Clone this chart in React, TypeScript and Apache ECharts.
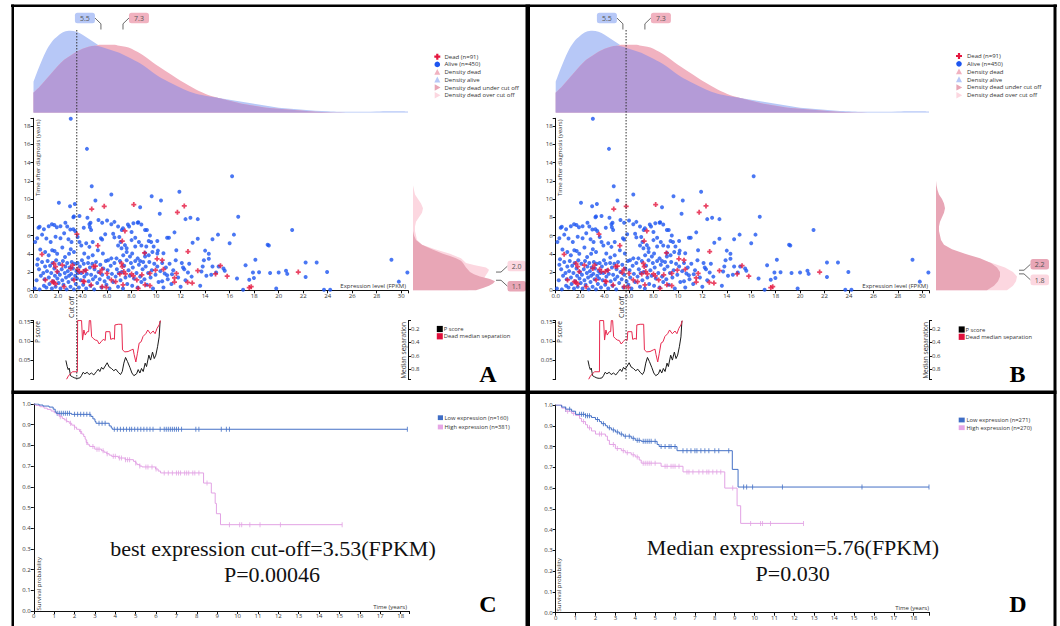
import React, { useEffect, useRef } from "react";
import * as echarts from "echarts";

type P = [number, number];

const SANS = "'Open Sans', 'Noto Sans', 'DejaVu Sans', sans-serif";
const SERIF = "'Liberation Serif', 'Times New Roman', serif";

// ---------------- scatter: expression (FPKM) vs time after diagnosis (years) ----------------
const alivePoints: P[] = [
  [3.04,18.8],[4.36,15.5],[16.2,12.5],[4.75,11.4],[11.9,10.8],[6.35,10.5],[9.64,10.3],[5.05,9.85],[10.4,9.85],[2.07,9.6],[3.37,9.45],[2.98,9.2],[8.7,9.1],[10.3,8.4],[16.7,8.05],[12.4,7.8],[12.8,7.95],[13.4,7.8],[21.1,6.6],[16.35,6.1],[15.05,6.1],[14.6,5.6],[13.4,5.65],[12.98,5.2],[16.0,5.15],[19.1,5.0],[19.2,4.9],[11.5,6.35],[11.05,5.75],[10.9,5.75],
  [29.2,3.35],[30.5,1.95],[29.8,0.95],[23.1,3.05],[22.2,3.05],[23.95,2.0],[22.2,1.45],[20.6,2.15],[20.7,1.8],[20.0,1.95],[19.3,1.9],[18.4,1.97],[18.1,3.35],[17.9,1.95],[17.3,2.75],[17.6,1.15],[17.98,1.35],[16.6,1.3],[19.8,0.2],[17.1,0.05],[23.7,0.05],[24.2,0.05],
  [14.0,4.35],[14.3,4.0],[13.9,3.3],[14.3,3.45],[13.8,2.6],[13.7,2.05],[14.1,1.6],[14.5,1.7],[14.6,2.6],[15.1,2.6],[15.5,2.4],[15.6,2.15],[14.9,1.95],[13.6,0.5],[12.9,1.5],[12.6,1.95],[12.2,2.5],[12.1,3.0],[12.3,2.3],[11.6,3.3],[11.65,4.4],[11.3,1.75],[10.9,1.65],[10.7,1.85],[10.5,1.0],[10.6,4.05],[10.15,4.35],[9.8,4.8],[9.2,4.8],[8.8,4.9],[9.1,6.6],[9.4,5.4],[8.3,5.75],[8.15,7.35],[8.55,7.45],[7.7,7.2],[7.3,6.8],[7.0,5.85],[6.6,5.8],[6.35,7.25],[6.0,7.65],[6.6,7.5],[5.6,7.4],[5.3,7.7],[5.85,6.15],[4.65,7.4],[4.4,7.95],[3.75,8.15],[3.3,8.1],[3.25,8.0],[4.6,6.9],[4.3,5.15],[3.9,4.9],
  [0.41,6.85],[0.5,6.96],[0.85,6.7],[1.24,7.03],[1.5,7.25],[1.7,7.15],[1.9,6.9],[2.2,7.03],[2.6,7.4],[2.75,7.0],[3.0,6.67],[3.25,6.7],[3.4,6.5],[4.1,6.85],[4.56,7.25],[4.7,6.6],[6.9,7.0],[7.2,6.6],[7.8,7.0],[8.0,6.4],[8.5,7.4],[8.8,7.2],[9.25,6.6],[9.5,6.0],
  [0.14,5.3],[0.3,5.7],[0.7,6.1],[1.05,5.68],[1.4,5.3],[1.8,5.86],[2.2,5.7],[2.5,6.25],[2.85,5.6],[3.1,5.3],[3.6,5.85],[3.75,5.3],[4.56,4.76],[4.83,5.3],[5.5,5.7],[5.6,5.57],[6.5,6.2],[6.9,4.9],[7.1,5.3],[7.46,4.95],[7.6,4.6],[8.0,5.5],[8.3,4.8],[8.6,5.3],[9.1,4.1],[9.6,5.3],[10.1,5.4],
  [0.55,4.47],[0.95,4.2],[1.24,3.85],[1.52,4.4],[1.72,4.3],[1.93,4.0],[2.35,4.69],[2.57,3.66],[2.9,4.0],[3.04,4.5],[3.3,4.2],[4.14,4.03],[4.47,3.6],[4.83,3.85],[5.25,4.4],[5.66,4.03],[6.08,3.3],[6.35,3.5],[6.77,3.5],[7.18,4.6],[7.32,3.85],[7.6,4.2],[7.87,3.7],[8.05,4.03],[8.5,3.5],[8.7,3.2],[9.1,3.7],[9.4,3.85],[9.7,4.2],[10.1,4.03],
  [0.1,0.2],[0.25,1.1],[0.3,2.8],[0.45,2.3],[0.5,0.1],[0.6,1.6],[0.7,3.1],[0.8,1.9],[0.85,0.5],[0.95,2.6],[0.35,3.4],[0.9,1.2],
  [1.05,0.3],[1.1,2.1],[1.15,3.2],[1.25,1.4],[1.3,0.7],[1.35,2.7],[1.45,1.9],[1.5,0.2],[1.55,3.0],[1.6,1.0],[1.7,2.4],[1.75,1.6],[1.8,0.4],[1.85,3.3],[1.95,1.3],[1.98,2.0],
  [2.05,0.8],[2.1,2.9],[2.15,1.7],[2.2,0.2],[2.3,2.3],[2.35,1.1],[2.4,3.2],[2.45,0.6],[2.55,1.9],[2.6,2.6],[2.65,1.4],[2.7,0.1],[2.75,3.0],[2.8,2.1],[2.85,0.9],[2.9,1.6],[2.95,2.5],
  [3.02,0.4],[3.08,1.8],[3.12,3.1],[3.18,1.2],[3.22,2.4],[3.3,0.1],[3.35,2.9],[3.4,1.6],[3.45,0.7],[3.5,2.1],[3.55,1.3],[3.6,3.0],[3.65,1.9],[3.7,0.3],[3.78,2.6],[3.85,1.1],[3.9,1.9],[3.95,3.3],
  [4.05,0.6],[4.1,2.9],[4.15,1.5],[4.2,2.2],[4.3,0.2],[4.35,1.8],[4.45,3.0],[4.5,1.0],[4.6,2.5],[4.65,0.5],[4.7,1.7],[4.8,2.9],[4.85,1.2],[4.95,0.1],[4.98,2.3],
  [5.05,1.5],[5.1,3.1],[5.2,0.8],[5.3,2.0],[5.4,1.2],[5.45,2.8],[5.55,0.3],[5.6,1.7],[5.7,2.4],[5.8,1.0],[5.9,3.2],[5.95,0.6],
  [6.05,2.2],[6.1,1.4],[6.2,0.2],[6.3,2.7],[6.4,1.8],[6.5,0.9],[6.6,3.0],[6.7,1.5],[6.8,2.3],[6.9,0.4],[6.95,1.9],
  [7.05,3.2],[7.1,1.1],[7.2,2.0],[7.3,0.2],[7.4,2.7],[7.5,1.4],[7.6,3.3],[7.65,0.7],[7.75,2.2],[7.85,1.6],[7.95,3.0],
  [8.05,0.5],[8.1,2.5],[8.2,1.3],[8.3,3.2],[8.4,1.9],[8.5,0.3],[8.6,2.8],[8.7,1.5],[8.8,0.9],[8.9,2.3],[8.95,3.1],
  [9.05,1.2],[9.15,2.6],[9.25,0.6],[9.35,1.9],[9.45,3.1],[9.55,1.4],[9.65,2.2],[9.75,0.2],[9.85,2.9],[9.95,1.7],
  [10.1,2.6],[10.2,0.9],[10.35,2.1],[10.5,3.0],[10.6,0.3],[10.8,2.5],[10.95,1.2],[11.1,2.9],[11.25,0.7],
  [11.4,2.2],[11.8,1.4],[12.0,0.4],[12.4,1.1],[12.7,2.9],
];
const deadPoints: P[] = [
  [5.77,9.2],[8.18,9.4],[11.74,8.55],[12.3,9.25],[4.75,8.9],[3.54,6.15],[7.46,6.5],[7.24,5.4],[5.25,4.9],[12.6,4.25],[0.69,3.95],[9.06,4.1],[10.08,3.45],[10.5,3.3],[13.4,2.15],[21.6,2.0],[15.25,2.7],[15.8,1.55],[14.85,1.8],[11.66,1.85],[11.5,1.35],[11.5,0.9],[12.95,0.8],[12.57,0.88],[17.76,0.4],[17.6,0.3],[10.6,2.3],[9.95,2.2],[9.5,1.85],[8.84,1.7],[8.43,1.13],[9.1,0.6],[9.5,0.5],[8.54,0.2],[7.3,0.6],[6.7,0.95],[6.35,1.13],[7.5,1.8],[7.37,2.05],[7.04,1.8],[7.24,2.6],[7.18,2.95],[6.0,1.85],[5.44,1.95],[5.05,2.65],[4.9,2.6],[4.28,2.2],[4.06,2.05],[4.06,1.0],[4.14,0.95],[3.73,2.05],[3.6,2.3],[2.35,2.75],[1.66,2.95],[1.8,2.6],[1.93,2.05],[1.52,0.95],[1.66,0.88],[1.8,0.7],[0.97,1.13],[2.49,0.4],[3.04,2.4],[3.18,2.75],[5.6,0.4],[5.94,0.33],[3.31,1.13],[4.7,0.58],[5.58,2.3],[8.0,1.8],[8.15,1.57],
];

// ---------------- expression density (top) ----------------
const densityX = [0,0.5,1,1.5,2,2.5,3,3.5,4,4.5,5,5.5,6,6.5,7,7.5,8,9,10,11,12,13,14,15,16,17,18,19,20,21,22,23,24,25,26,27,28,29,30,30.55];
const densityAlive = [0.031,0.047,0.061,0.071,0.077,0.081,0.082,0.081,0.078,0.074,0.070,0.066,0.064,0.062,0.060,0.057,0.054,0.047,0.038,0.031,0.025,0.020,0.017,0.015,0.013,0.011,0.009,0.007,0.005,0.004,0.003,0.002,0.0015,0.001,0.001,0.001,0.0012,0.0015,0.0015,0.0012];
const densityDead = [0.020,0.026,0.033,0.040,0.047,0.053,0.057,0.061,0.064,0.066,0.067,0.068,0.068,0.068,0.067,0.066,0.064,0.057,0.048,0.040,0.032,0.025,0.019,0.015,0.012,0.009,0.007,0.005,0.004,0.003,0.002,0.001,0.0005,0.0002,0,0,0,0,0,0];
const medianExprAlive = 5.5;
const medianExprDead = 7.3;

// ---------------- survival-time density of dead (right), [time, density] ----------------
const survDensA_under: P[] = [[0,0.063],[0.25,0.070],[0.5,0.076],[0.75,0.080],[1.0,0.082],[1.25,0.077],[1.5,0.067],[1.75,0.061],[2.0,0.057],[2.5,0.053],[3.0,0.050],[3.25,0.048],[3.5,0.043],[3.75,0.037],[4.0,0.030],[4.5,0.019],[5.0,0.009],[5.5,0.003],[6.0,0.001],[6.5,0]];
const survDensA_over: P[] = [[0,0.055],[0.5,0.065],[1.0,0.070],[1.5,0.072],[2.0,0.075],[2.25,0.076],[2.5,0.073],[2.75,0.062],[3.0,0.053],[3.5,0.048],[4.0,0.037],[4.5,0.022],[5.0,0.009],[5.5,0.004],[6.0,0.003],[6.5,0.002],[7.0,0.002],[7.5,0.003],[8.0,0.006],[8.5,0.009],[9.0,0.010],[9.5,0.008],[10.0,0.005],[10.5,0.002],[11.0,0.001],[11.5,0]];
const survDensB_under: P[] = [[0,0.051],[0.5,0.058],[1.0,0.062],[1.5,0.064],[2.0,0.064],[2.5,0.061],[3.0,0.055],[3.5,0.044],[4.0,0.029],[4.5,0.016],[5.0,0.008],[5.5,0.005],[6.0,0.004],[6.5,0.003],[7.0,0.003],[7.5,0.004],[8.0,0.006],[8.5,0.008],[9.0,0.009],[9.5,0.008],[10.0,0.006],[10.5,0.003],[11.0,0.0015],[11.5,0.0005],[12,0]];
const survDensB_over: P[] = [[0,0.071],[0.5,0.077],[1.0,0.080],[1.5,0.081],[2.0,0.077],[2.5,0.069],[3.0,0.056],[3.5,0.040],[4.0,0.025],[4.5,0.013],[5.0,0.007],[5.5,0.004],[6.0,0.003],[7.0,0.002],[8.0,0.002],[9.0,0.002],[10,0.001],[11,0]];
const medianTimeA = { under: 1.1, over: 2.0 };
const medianTimeB = { under: 2.2, over: 1.8 };
const cutoffBest = 3.53;
const cutoffMedian = 5.76;

// ---------------- P score / dead median separation vs cut-off ----------------
const pScore: P[] = [[2.64,0.050],[2.75,0.034],[2.83,0.026],[2.91,0.030],[3.02,0.010],[3.18,0.007],[3.37,0.004],[3.56,0.003],[3.78,0.004],[3.91,0.010],[4.05,0.019],[4.19,0.015],[4.38,0.019],[4.54,0.013],[4.73,0.017],[4.92,0.012],[5.14,0.021],[5.28,0.027],[5.41,0.021],[5.55,0.032],[5.69,0.027],[5.90,0.038],[6.01,0.044],[6.17,0.033],[6.36,0.029],[6.55,0.023],[6.72,0.027],[6.91,0.019],[7.10,0.013],[7.24,0.021],[7.37,0.043],[7.51,0.058],[7.67,0.047],[7.86,0.032],[8.03,0.017],[8.19,0.010],[8.41,0.015],[8.54,0.026],[8.68,0.017],[8.81,0.029],[8.95,0.021],[9.11,0.043],[9.22,0.034],[9.41,0.064],[9.55,0.051],[9.71,0.072],[9.85,0.055],[9.98,0.064],[10.12,0.086],[10.25,0.112],[10.33,0.154]];
const medianSeparation: P[] = [[2.70,0.946],[2.84,0.90],[3.03,0.86],[3.19,0.835],[3.58,0.835],[3.60,0.075],[3.92,0.075],[4.00,0.364],[4.11,0.215],[4.22,0.29],[4.38,0.24],[4.50,0.24],[4.55,0.075],[4.66,0.075],[4.74,0.314],[4.87,0.34],[5.04,0.364],[5.20,0.37],[5.36,0.423],[5.52,0.389],[5.69,0.354],[5.85,0.37],[5.90,0.24],[6.23,0.24],[6.30,0.354],[6.50,0.34],[6.60,0.354],[6.64,0.14],[6.91,0.13],[7.20,0.13],[7.26,0.51],[7.45,0.54],[7.72,0.535],[7.99,0.51],[8.13,0.50],[8.21,0.58],[8.35,0.69],[8.48,0.56],[8.62,0.41],[8.78,0.39],[8.94,0.31],[9.16,0.27],[9.32,0.215],[9.54,0.27],[9.76,0.23],[9.92,0.27],[10.08,0.19],[10.25,0.14],[10.36,0.075]];

// ---------------- Kaplan-Meier curves ----------------
const kmC_low: P[] = [[0,1],[0.25,0.995],[0.45,0.99],[0.75,0.985],[0.95,0.975],[1.05,0.962],[1.1,0.955],[1.85,0.95],[2.8,0.94],[2.9,0.928],[3.0,0.916],[3.05,0.907],[3.7,0.894],[3.8,0.885],[3.85,0.878],[18.33,0.878]];
const kmC_lowCensor = [1.15,1.25,1.35,1.45,1.55,1.65,1.75,2.0,2.15,2.3,2.45,2.6,2.75,3.2,3.35,3.5,3.95,4.1,4.25,4.4,4.55,4.7,4.8,4.95,5.1,5.25,5.4,5.55,5.7,5.85,6.2,6.4,6.5,6.6,6.7,6.8,6.9,7.0,7.1,7.25,7.95,8.1,9.2,9.45,9.6,18.33];
const kmC_high: P[] = [[0,1],[0.1,0.993],[0.3,0.987],[0.5,0.98],[0.66,0.974],[0.85,0.966],[1.0,0.958],[1.15,0.948],[1.25,0.939],[1.4,0.93],[1.5,0.923],[1.62,0.915],[1.74,0.907],[1.86,0.898],[1.99,0.888],[2.1,0.878],[2.24,0.867],[2.35,0.855],[2.45,0.843],[2.52,0.83],[2.57,0.814],[2.65,0.803],[2.74,0.795],[2.99,0.782],[3.32,0.774],[3.45,0.767],[3.57,0.76],[3.7,0.753],[3.82,0.747],[4.15,0.739],[4.48,0.731],[4.89,0.723],[5.0,0.715],[5.06,0.707],[5.2,0.7],[5.31,0.696],[5.97,0.686],[6.1,0.676],[6.22,0.667],[8.33,0.618],[8.71,0.57],[8.9,0.52],[8.96,0.47],[9.16,0.417],[15.13,0.417]];
const kmC_highCensor = [1.3,1.6,1.8,2.0,2.3,2.6,2.9,3.1,3.2,3.4,3.6,3.9,4.0,4.2,4.3,4.5,4.6,4.7,5.0,5.2,5.5,5.6,5.8,6.0,6.4,6.6,6.8,7.0,7.1,7.2,7.4,7.5,7.6,7.8,7.9,8.1,8.5,9.6,10.1,10.2,10.6,11.1,12.1,15.13];
const kmD_low: P[] = [[0,1],[0.3,0.99],[0.5,0.98],[0.8,0.97],[1.0,0.955],[1.5,0.948],[1.8,0.94],[2.0,0.93],[2.2,0.92],[2.3,0.91],[2.5,0.9],[2.6,0.89],[2.8,0.88],[3.0,0.87],[3.2,0.86],[3.4,0.85],[3.8,0.84],[4.0,0.83],[4.3,0.825],[5.1,0.81],[5.2,0.8],[6.1,0.78],[8.88,0.69],[9.17,0.605],[18.77,0.605]];
const kmD_lowCensor = [0.5,0.7,1.2,1.3,1.4,1.5,1.6,1.7,2.1,2.4,2.7,2.9,3.1,3.3,3.5,3.7,3.9,4.1,4.2,4.4,4.5,4.6,4.7,4.8,5.0,5.3,5.5,5.7,5.8,6.0,6.4,6.6,6.8,7.0,7.1,7.3,7.5,7.7,8.0,8.2,8.7,9.45,9.6,9.9,11.4,15.4,18.77];
const kmD_high: P[] = [[0,1],[0.3,0.985],[0.5,0.97],[0.8,0.96],[1.0,0.95],[1.2,0.935],[1.3,0.92],[1.5,0.905],[1.6,0.89],[1.8,0.875],[2.0,0.86],[2.5,0.85],[2.6,0.83],[2.7,0.81],[3.0,0.79],[3.3,0.78],[3.5,0.77],[3.8,0.76],[4.0,0.75],[4.2,0.735],[4.3,0.72],[5.3,0.705],[6.4,0.678],[8.5,0.60],[9.12,0.515],[9.3,0.43],[12.46,0.43]];
const kmD_highCensor = [0.6,0.9,1.4,1.7,2.2,2.3,2.9,3.1,3.4,3.6,3.9,4.1,4.4,4.5,4.6,4.7,4.8,5.0,5.5,5.6,5.8,5.9,6.0,6.2,6.6,6.7,6.9,7.2,7.4,7.6,7.7,7.9,8.1,8.3,8.9,9.8,10.3,10.4,10.8,12.46];

// ---------------- tick labels / texts ----------------
const exprTicks = [0,2,4,6,8,10,12,14,16,18,20,22,24,26,28,30];
const timeTicks = [0,2,4,6,8,10,12,14,16,18];
const pScoreTicks = [0.05,0.1,0.15];
const sepTicks = [0.2,0.4,0.6,0.8];
const kmTimeTicks = [0,1,2,3,4,5,6,7,8,9,10,11,12,13,14,15,16,17,18];
const kmProbTicks = [0,0.1,0.2,0.3,0.4,0.5,0.6,0.7,0.8,0.9,1.0];
const topLegendLabels = ["Dead (n=91)","Alive (n=450)","Density dead","Density alive","Density dead under cut off","Density dead over cut off"];
const pLegendLabels = ["P score","Dead median separation"];
const kmLegendC = ["Low expression (n=160)","High expression (n=381)"];
const kmLegendD = ["Low expression (n=271)","High expression (n=270)"];

const EXPR_MAX = 30.55;
const TIME_MAX = 18.85;
const DENS_MAX = 0.0847;
const RD_MAX = 0.085;
const P_MAX = 0.155;
const SEP_MIN = 0.074;
const SEP_MAX = 0.95;

const RED = "#e5173f";
const BLUE = "#1d55f0";
const DENS_BLUE = "#b7c8f7";
const DENS_PINK = "#f1b2c0";
const DENS_PURPLE = "#b49bd7";
const DARK_PINK = "#e8a6b6";
const LIGHT_PINK = "#fcd7e0";
const KM_BLUE = "#4470c6";
const KM_PINK = "#e2a2e4";
const AX = "#111";

function stepValue(curve: P[], t: number) {
  let v = curve[0][1];
  for (const [x, y] of curve) { if (x <= t) v = y; }
  return v;
}

const axisLine = { show: true, onZero: false, lineStyle: { color: AX, width: 1 } };
const ticks = (vals: number[]) => ({ show: true, length: 3, inside: false, customValues: vals, lineStyle: { color: AX, width: 1 } });
const labels = (vals: number[], fmt: (v: number) => string, margin = 3) => ({ show: true, customValues: vals, formatter: fmt, fontSize: 6, color: "#333", fontFamily: SANS, margin });
const hidden = (min: number, max: number, inverse = false) => ({ type: "value", show: false, min, max, inverse, splitLine: { show: false } });

function txt(x: number, y: number, text: string, o: any = {}) {
  const align = o.align || "left";
  const valign = o.valign || "middle";
  return {
    type: "text", x, y, rotation: o.rot || 0, z: o.z || 50, silent: true,
    style: {
      text, fontSize: o.size || 6, fontFamily: o.family || SANS, fontWeight: o.weight || "normal",
      fill: o.color || "#333", align, verticalAlign: valign, textAlign: align, textVerticalAlign: valign,
    },
  };
}

function plusPts(cx: number, cy: number, s: number, a: number) {
  const h = s / 2;
  return [[cx-a,cy-h],[cx+a,cy-h],[cx+a,cy-a],[cx+h,cy-a],[cx+h,cy+a],[cx+a,cy+a],[cx+a,cy+h],[cx-a,cy+h],[cx-a,cy+a],[cx-h,cy+a],[cx-h,cy-a],[cx-a,cy-a]];
}

function topLegend(mx: number, tx: number, y0: number, dy: number) {
  const out: any[] = [];
  const kinds = ["plus", "circle", "up", "up", "right", "right"];
  const colors = [RED, BLUE, DENS_PINK, DENS_BLUE, DARK_PINK, LIGHT_PINK];
  topLegendLabels.forEach((label, i) => {
    const cy = y0 + i * dy;
    const k = kinds[i];
    if (k === "plus") out.push({ type: "polygon", shape: { points: plusPts(mx, cy, 6, 1.1) }, style: { fill: colors[i] } });
    else if (k === "circle") out.push({ type: "circle", shape: { cx: mx, cy, r: 2.8 }, style: { fill: colors[i] } });
    else if (k === "up") out.push({ type: "polygon", shape: { points: [[mx, cy - 3.2], [mx + 3, cy + 2.6], [mx - 3, cy + 2.6]] }, style: { fill: colors[i] } });
    else out.push({ type: "polygon", shape: { points: [[mx - 2.6, cy - 3.2], [mx + 3.2, cy], [mx - 2.6, cy + 3.2]] }, style: { fill: colors[i] } });
    out.push(txt(tx, cy, label, { size: 6, color: "#333" }));
  });
  return out;
}

function squareLegend(sx: number, tx: number, ys: number[], colors: string[], names: string[], w: number, h: number) {
  const out: any[] = [];
  names.forEach((n, i) => {
    out.push({ type: "rect", shape: { x: sx, y: ys[i] - h / 2, width: w, height: h }, style: { fill: colors[i] } });
    out.push(txt(tx, ys[i], n, { size: 5.8, color: "#333" }));
  });
  return out;
}

function polygonSeries(xIdx: number, yIdx: number, pts: P[], color: string) {
  return {
    type: "custom", xAxisIndex: xIdx, yAxisIndex: yIdx, data: [[0, 0]], silent: true, clip: false,
    renderItem: (params: any, api: any) => {
      const poly: number[][] = [api.coord([0, pts[0][0]])];
      pts.forEach(([t, d]) => poly.push(api.coord([d, t])));
      poly.push(api.coord([0, pts[pts.length - 1][0]]));
      return { type: "polygon", shape: { points: poly }, style: { fill: color } };
    },
  };
}

function panelSeries(g: number, rightY: number, cutoff: number, under: P[], over: P[], med: { under: number; over: number }) {
  const alive = densityX.map((x, i) => [x, densityAlive[i]]);
  const dead = densityX.map((x, i) => [x, densityDead[i]]);
  const both = densityX.map((x, i) => [x, Math.min(densityAlive[i], densityDead[i])]);
  const area = (data: number[][], color: string) => ({
    type: "line", xAxisIndex: g, yAxisIndex: g, data, smooth: 0.35, symbol: "none", silent: true,
    lineStyle: { width: 0, color }, areaStyle: { color, opacity: 1 },
  });
  const labelsItems = [
    { t: med.over, color: LIGHT_PINK },
    { t: med.under, color: DARK_PINK },
  ].sort((a, b) => b.t - a.t);
  return [
    area(alive, DENS_BLUE),
    area(dead, DENS_PINK),
    area(both, DENS_PURPLE),
    {
      type: "custom", xAxisIndex: g, yAxisIndex: g, silent: true, clip: false,
      data: [[medianExprAlive, 0], [medianExprDead, 1]],
      renderItem: (params: any, api: any) => {
        const v = api.value(0); const side = api.value(1);
        const x = api.coord([v, 0])[0];
        const sx = side === 0 ? x - 6 : x + 6;
        const bx = side === 0 ? x - 26 : x + 6;
        return {
          type: "group", children: [
            { type: "polyline", shape: { points: [[sx, 18], [x, 23.8], [x, 29.5]] }, style: { stroke: "#444", lineWidth: 0.8, fill: "none" } },
            { type: "rect", shape: { x: bx, y: 12.7, width: 20, height: 10.6, r: 2.5 }, style: { fill: side === 0 ? DENS_BLUE : DENS_PINK } },
            { type: "text", x: bx + 10, y: 18.2, style: { text: v.toFixed(1), fontSize: 7, fontFamily: SANS, fill: "#555", align: "center", verticalAlign: "middle", textAlign: "center", textVerticalAlign: "middle" } },
          ],
        };
      },
    },
    { type: "scatter", xAxisIndex: g + 1, yAxisIndex: g + 1, data: alivePoints, symbol: "circle", symbolSize: 4, silent: true, itemStyle: { color: BLUE } },
    { type: "scatter", xAxisIndex: g + 1, yAxisIndex: g + 1, data: deadPoints, symbol: "path://M2.6,0H5.4V2.6H8V5.4H5.4V8H2.6V5.4H0V2.6H2.6Z", symbolSize: 5, silent: true, itemStyle: { color: RED } },
    {
      type: "custom", xAxisIndex: g + 1, yAxisIndex: g + 1, silent: true, clip: false, data: [[cutoff, 0]], z: 5,
      renderItem: (params: any, api: any) => {
        const x = api.coord([api.value(0), 0])[0];
        return {
          type: "group", children: [
            { type: "line", shape: { x1: x, y1: 30, x2: x, y2: 379.5 }, style: { stroke: "#333", lineWidth: 1, lineDash: [1.5, 1.5] } },
            { type: "text", x: x - 5, y: 318, rotation: Math.PI / 2, style: { text: "Cut off", fontSize: 7, fontFamily: SANS, fill: "#222", align: "left", verticalAlign: "middle", textAlign: "left", textVerticalAlign: "middle" } },
          ],
        };
      },
    },
    polygonSeries(g + 2, g + 2, over, LIGHT_PINK),
    polygonSeries(g + 2, g + 2, under, DARK_PINK),
    {
      type: "custom", xAxisIndex: g + 2, yAxisIndex: g + 2, silent: true, clip: false,
      data: labelsItems.map((it, i) => [it.t, i]),
      renderItem: (params: any, api: any) => {
        const t = api.value(0); const i = api.value(1);
        const item = labelsItems[i];
        const y = api.coord([0, t])[1];
        const x0 = api.coord([0, 0])[0];
        const dir = i === 0 ? -1 : 1;
        const by = y + dir * 6;
        return {
          type: "group", children: [
            { type: "polyline", shape: { points: [[x0 + 83, y], [x0 + 88, y], [x0 + 94.5, by]] }, style: { stroke: "#444", lineWidth: 0.8, fill: "none" } },
            { type: "rect", shape: { x: x0 + 94.5, y: by - 5.3, width: 18.5, height: 10.6, r: 2.5 }, style: { fill: item.color } },
            { type: "text", x: x0 + 103.7, y: by + 0.2, style: { text: t.toFixed(1), fontSize: 7, fontFamily: SANS, fill: "#555", align: "center", verticalAlign: "middle", textAlign: "center", textVerticalAlign: "middle" } },
          ],
        };
      },
    },
    { type: "line", xAxisIndex: g + 3, yAxisIndex: g + 3, data: pScore, symbol: "none", silent: true, lineStyle: { color: "#1a1a1a", width: 1 } },
    { type: "line", xAxisIndex: g + 3, yAxisIndex: rightY, data: medianSeparation, symbol: "none", silent: true, lineStyle: { color: "#e8294f", width: 1 } },
  ];
}

function kmSeries(g: number, low: P[], lowC: number[], high: P[], highC: number[]) {
  const line = (data: P[], color: string) => ({ type: "line", xAxisIndex: g, yAxisIndex: g, data, step: "end", symbol: "none", silent: true, lineStyle: { color, width: 1 } });
  const cens = (curve: P[], times: number[], color: string) => ({
    type: "scatter", xAxisIndex: g, yAxisIndex: g, silent: true, symbol: "rect", symbolSize: [1, 5],
    data: times.map((t) => [t, stepValue(curve, t)]), itemStyle: { color },
  });
  return [line(high, KM_PINK), cens(high, highC, KM_PINK), line(low, KM_BLUE), cens(low, lowC, KM_BLUE)];
}

function buildOption() {
  const gridDefs = [
    [33.5, 28, 374.5, 84.7], [33.5, 118.3, 374.5, 172], [413, 118.3, 85, 172], [33.5, 320.5, 374.5, 59],
    [555.7, 28, 373.3, 84.7], [555.7, 118.3, 373.3, 172], [936, 118.3, 85, 172], [555.7, 320.5, 373.3, 59],
    [33.8, 404, 375, 207], [555.7, 405, 373.9, 207.7],
  ];
  const grid = gridDefs.map(([left, top, width, height]) => ({ left, top, width, height, containLabel: false, outerBoundsMode: "none" }));

  const scatterX = (gi: number) => ({
    type: "value", gridIndex: gi, min: 0, max: EXPR_MAX, splitLine: { show: false }, axisLine,
    axisTick: ticks([...exprTicks, EXPR_MAX]), axisLabel: labels(exprTicks, (v: number) => (v < 10 ? v.toFixed(1) : String(v))),
  });
  const scatterY = (gi: number) => ({
    type: "value", gridIndex: gi, min: 0, max: TIME_MAX, splitLine: { show: false }, axisLine,
    axisTick: ticks([...timeTicks, TIME_MAX]), axisLabel: labels(timeTicks, (v: number) => String(v)),
  });
  const pY = (gi: number) => ({
    type: "value", gridIndex: gi, min: 0, max: P_MAX, position: "left", splitLine: { show: false }, axisLine,
    axisTick: ticks([0, ...pScoreTicks, P_MAX]), axisLabel: labels(pScoreTicks, (v: number) => v.toFixed(2)),
  });
  const sepY = (gi: number) => ({
    type: "value", gridIndex: gi, min: SEP_MIN, max: SEP_MAX, inverse: true, position: "right", splitLine: { show: false }, axisLine,
    axisTick: ticks([SEP_MIN, ...sepTicks, SEP_MAX]), axisLabel: labels(sepTicks, (v: number) => v.toFixed(1)),
  });
  const kmX = (gi: number, max: number) => ({
    type: "value", gridIndex: gi, min: 0, max, splitLine: { show: false }, axisLine,
    axisTick: ticks([...kmTimeTicks, max]), axisLabel: labels(kmTimeTicks, (v: number) => String(v), 2),
  });
  const kmY = (gi: number) => ({
    type: "value", gridIndex: gi, min: 0, max: 1, splitLine: { show: false }, axisLine,
    axisTick: ticks(kmProbTicks), axisLabel: labels(kmProbTicks, (v: number) => v.toFixed(1)),
  });

  const xAxis = [
    { ...hidden(0, EXPR_MAX), gridIndex: 0 }, scatterX(1), { ...hidden(0, RD_MAX), gridIndex: 2 }, { ...hidden(0, EXPR_MAX), gridIndex: 3 },
    { ...hidden(0, EXPR_MAX), gridIndex: 4 }, scatterX(5), { ...hidden(0, RD_MAX), gridIndex: 6 }, { ...hidden(0, EXPR_MAX), gridIndex: 7 },
    kmX(8, 18.4), kmX(9, 18.8),
  ];
  const yAxis = [
    { ...hidden(0, DENS_MAX), gridIndex: 0 }, scatterY(1), { ...hidden(0, TIME_MAX), gridIndex: 2 }, pY(3),
    { ...hidden(0, DENS_MAX), gridIndex: 4 }, scatterY(5), { ...hidden(0, TIME_MAX), gridIndex: 6 }, pY(7),
    kmY(8), kmY(9),
    sepY(3), sepY(7),
  ];

  const series = [
    ...panelSeries(0, 10, cutoffBest, survDensA_under, survDensA_over, medianTimeA),
    ...panelSeries(4, 11, cutoffMedian, survDensB_under, survDensB_over, medianTimeB),
    ...kmSeries(8, kmC_low, kmC_lowCensor, kmC_high, kmC_highCensor),
    ...kmSeries(9, kmD_low, kmD_lowCensor, kmD_high, kmD_highCensor),
  ];

  const g: any[] = [];
  // axis names
  g.push(txt(38.3, 119.5, "Time after diagnosis (years)", { rot: Math.PI / 2, align: "right", size: 6 }));
  g.push(txt(559.6, 119.5, "Time after diagnosis (years)", { rot: Math.PI / 2, align: "right", size: 6 }));
  g.push(txt(406, 289, "Expression level (FPKM)", { align: "right", valign: "bottom", size: 6 }));
  g.push(txt(928, 289, "Expression level (FPKM)", { align: "right", valign: "bottom", size: 6 }));
  g.push(txt(37.6, 321, "P score", { rot: Math.PI / 2, align: "right", size: 6.5 }));
  g.push(txt(559.6, 321, "P score", { rot: Math.PI / 2, align: "right", size: 6.5 }));
  g.push(txt(403, 322, "Median separation", { rot: Math.PI / 2, align: "right", size: 6.5 }));
  g.push(txt(925, 322, "Median separation", { rot: Math.PI / 2, align: "right", size: 6.5 }));
  g.push(txt(38.7, 610.5, "Survival probability", { rot: Math.PI / 2, align: "left", size: 6 }));
  g.push(txt(558.8, 611.5, "Survival probability", { rot: Math.PI / 2, align: "left", size: 6 }));
  g.push(txt(407, 609.5, "Time (years)", { align: "right", valign: "bottom", size: 6 }));
  g.push(txt(929, 610.5, "Time (years)", { align: "right", valign: "bottom", size: 6 }));
  // legends
  g.push(...topLegend(437.3, 444.5, 56.7, 7.7));
  g.push(...topLegend(959, 967, 56, 7.85));
  g.push(...squareLegend(436.8, 443.8, [329, 336.3], ["#000", "#e0103c"], pLegendLabels, 6, 6.2));
  g.push(...squareLegend(958.7, 965.5, [329.5, 336.8], ["#000", "#e0103c"], pLegendLabels, 6, 6.2));
  g.push(...squareLegend(437.8, 444.5, [417.7, 427], ["#3f6dc5", "#e6a6e6"], kmLegendC, 5.2, 4.8));
  g.push(...squareLegend(958.7, 966.5, [420, 427.7], ["#3f6dc5", "#e6a6e6"], kmLegendD, 6, 4.8));
  // annotations
  g.push(txt(273, 548.2, "best expression cut-off=3.53(FPKM)", { family: SERIF, size: 22, color: "#111", align: "center" }));
  g.push(txt(272, 574.2, "P=0.00046", { family: SERIF, size: 22, color: "#111", align: "center" }));
  g.push(txt(793, 547.5, "Median expression=5.76(FPKM)", { family: SERIF, size: 22, color: "#111", align: "center" }));
  g.push(txt(792.6, 573.2, "P=0.030", { family: SERIF, size: 22, color: "#111", align: "center" }));
  g.push(txt(488, 374, "A", { family: SERIF, size: 24, weight: "bold", color: "#000", align: "center" }));
  g.push(txt(1017.5, 374, "B", { family: SERIF, size: 24, weight: "bold", color: "#000", align: "center" }));
  g.push(txt(488, 603.5, "C", { family: SERIF, size: 24, weight: "bold", color: "#000", align: "center" }));
  g.push(txt(1018, 603.5, "D", { family: SERIF, size: 24, weight: "bold", color: "#000", align: "center" }));
  // panel frames
  [[11, 4.5, 1046, 2.5], [11.5, 4.5, 2.5, 622], [1053.5, 4.5, 3, 622], [525.5, 4.5, 4.5, 622], [11.5, 390.5, 1045, 3.5]].forEach(([x, y, w, h]) =>
    g.push({ type: "rect", z: 100, silent: true, shape: { x, y, width: w, height: h }, style: { fill: "#000" } })
  );

  return {
    animation: false,
    backgroundColor: "#fff",
    tooltip: { show: false },
    grid, xAxis, yAxis, series,
    graphic: { elements: g },
  };
}

export default function App() {
  const ref = useRef<HTMLDivElement>(null);
  useEffect(() => {
    document.body.style.margin = "0";
    document.body.style.padding = "0";
    const chart = echarts.init(ref.current as HTMLDivElement, null, { renderer: "svg" });
    chart.setOption(buildOption() as any);
    return () => chart.dispose();
  }, []);
  return <div ref={ref} style={{ width: 1060, height: 626, background: "#fff", overflow: "hidden" }} />;
}
